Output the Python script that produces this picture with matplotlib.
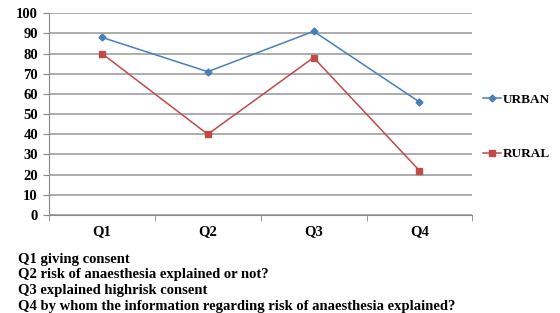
import matplotlib.pyplot as plt

categories = ['Q1', 'Q2', 'Q3', 'Q4']
urban = [88, 71, 91, 56]
rural = [80, 40, 78, 22]
notes = [
    'Q1 giving consent',
    'Q2 risk of anaesthesia explained or not?',
    'Q3 explained highrisk consent',
    'Q4 by whom the information regarding risk of anaesthesia explained?',
]

plt.rcParams['font.family'] = 'Liberation Serif'
plt.rcParams['font.weight'] = 'bold'

fig = plt.figure(figsize=(5.6, 3.13), dpi=100)
ax = fig.add_axes([0.0875, 0.313, 0.756, 0.645])

x = range(len(categories))
ax.plot(x, urban, color='#4a7ebb', marker='D', markersize=3.5, linewidth=1.1, label='URBAN', zorder=3)
ax.plot(x, rural, color='#be4b48', marker='s', markersize=5, linewidth=1.1, label='RURAL', zorder=3)

ax.set_xlim(-0.5, 3.5)
ax.set_ylim(0, 100)
ax.set_yticks(range(0, 101, 10))
ax.set_xticks(list(x))
ax.set_xticklabels(categories, fontsize=10.5, fontweight='bold')
ax.set_xticks([-0.5, 0.5, 1.5, 2.5, 3.5], minor=True)
ax.tick_params(axis='x', which='major', length=0, pad=7)
ax.tick_params(axis='x', which='minor', length=4, color='#888888')
ax.tick_params(axis='y', length=4, color='#888888', labelsize=10.5, pad=4)
for lab in ax.get_yticklabels():
    lab.set_fontweight('bold')

ax.grid(axis='y', color='#a6a6a6', linewidth=1.3)
ax.set_axisbelow(True)
for side in ['top', 'right']:
    ax.spines[side].set_visible(False)
ax.spines['left'].set_color('#888888')
ax.spines['bottom'].set_color('#888888')

fig.legend(loc='center left', bbox_to_anchor=(0.862, 0.594), frameon=False,
           prop={'size': 9.5, 'weight': 'bold'}, labelspacing=3.2,
           handlelength=1.4, handletextpad=0.1, borderpad=0, borderaxespad=0)

for i, note in enumerate(notes):
    fig.text(0.032, 1 - (259 + i * 15.7) / 313, note, fontsize=10.5,
             fontweight='bold', va='center', ha='left')

plt.savefig('out.png', dpi=100)
